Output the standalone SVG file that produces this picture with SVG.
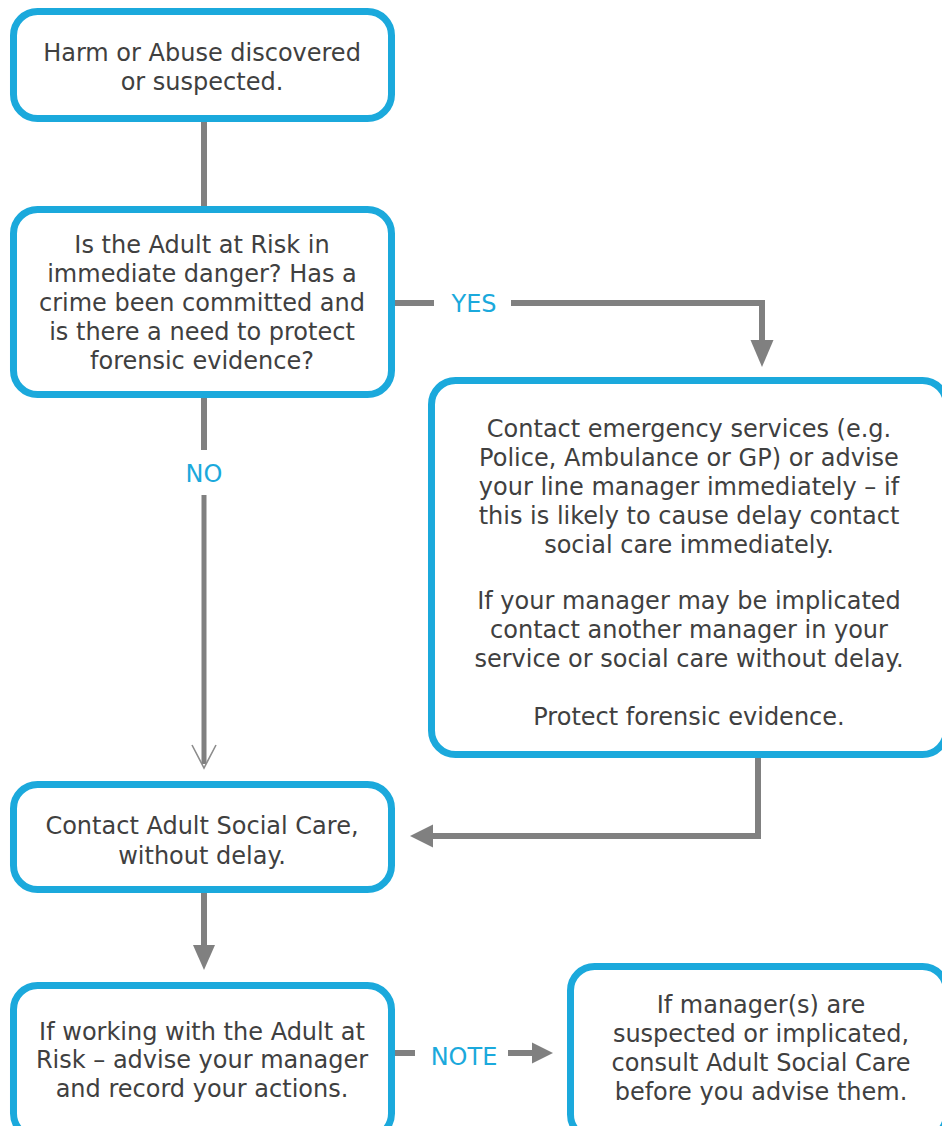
<svg xmlns="http://www.w3.org/2000/svg" width="942" height="1126" viewBox="0 0 942 1126">
  <style>
    .box { fill: #ffffff; stroke: #1ba9dc; stroke-width: 7; }
    .txt { font-family: "DejaVu Sans", Verdana, sans-serif; font-size: 24px; fill: #404040; text-anchor: middle; }
    .lbl { font-family: "DejaVu Sans", Verdana, sans-serif; font-size: 24px; fill: #1ba9dc; text-anchor: middle; }
    .line { fill: none; stroke: #808080; stroke-width: 6; }
    .head { fill: #808080; stroke: none; }
    .thin { fill: none; stroke: #8c8c8c; stroke-width: 1.6; }
  </style>
  <rect width="942" height="1126" fill="#ffffff"/>

  <g id="connectors">
    <line class="line" x1="204" y1="122" x2="204" y2="206"/>
    <line class="line" x1="395" y1="303" x2="434" y2="303"/>
    <text class="lbl" x="474" y="312">YES</text>
    <polyline class="line" points="511,303 762,303 762,341"/>
    <polygon class="head" points="750.5,340 773.5,340 762,367"/>

    <line class="line" x1="204" y1="398" x2="204" y2="450"/>
    <text class="lbl" x="204" y="482">NO</text>
    <line class="line" x1="204" y1="495" x2="204" y2="764" style="stroke-width:5"/>
    <polyline class="thin" points="192,745 204,768 216,745"/>

    <polyline class="line" points="758,758 758,836 432,836"/>
    <polygon class="head" points="433,824.5 433,847.5 410,836"/>

    <line class="line" x1="204" y1="893" x2="204" y2="946"/>
    <polygon class="head" points="193,945 215,945 204,970"/>

    <line class="line" x1="395" y1="1053" x2="415" y2="1053"/>
    <text class="lbl" x="464" y="1065">NOTE</text>
    <line class="line" x1="508" y1="1053" x2="533" y2="1053"/>
    <polygon class="head" points="532,1042.5 532,1063.5 553,1053"/>
  </g>

  <g id="n1">
    <rect class="box" x="13.5" y="11.5" width="378" height="107" rx="24"/>
    <text class="txt" x="202" y="61">Harm or Abuse discovered</text>
    <text class="txt" x="202" y="90">or suspected.</text>
  </g>

  <g id="n2">
    <rect class="box" x="13.5" y="209.5" width="378" height="185" rx="24"/>
    <text class="txt" x="202" y="253">Is the Adult at Risk in</text>
    <text class="txt" x="202" y="282">immediate danger? Has a</text>
    <text class="txt" x="202" y="311">crime been committed and</text>
    <text class="txt" x="202" y="340">is there a need to protect</text>
    <text class="txt" x="202" y="369">forensic evidence?</text>
  </g>

  <g id="n3">
    <rect class="box" x="431.5" y="380.5" width="515" height="374" rx="24"/>
    <text class="txt" x="689" y="437">Contact emergency services (e.g.</text>
    <text class="txt" x="689" y="466">Police, Ambulance or GP) or advise</text>
    <text class="txt" x="689" y="495">your line manager immediately – if</text>
    <text class="txt" x="689" y="524">this is likely to cause delay contact</text>
    <text class="txt" x="689" y="553">social care immediately.</text>
    <text class="txt" x="689" y="609">If your manager may be implicated</text>
    <text class="txt" x="689" y="638">contact another manager in your</text>
    <text class="txt" x="689" y="667">service or social care without delay.</text>
    <text class="txt" x="689" y="725">Protect forensic evidence.</text>
  </g>

  <g id="n4">
    <rect class="box" x="13.5" y="784.5" width="378" height="105" rx="24"/>
    <text class="txt" x="202" y="834">Contact Adult Social Care,</text>
    <text class="txt" x="202" y="864">without delay.</text>
  </g>

  <g id="n5">
    <rect class="box" x="13.5" y="985.5" width="378" height="152" rx="24"/>
    <text class="txt" x="202" y="1040">If working with the Adult at</text>
    <text class="txt" x="202" y="1068">Risk – advise your manager</text>
    <text class="txt" x="202" y="1097">and record your actions.</text>
  </g>

  <g id="n6">
    <rect class="box" x="570.5" y="966.5" width="376" height="172" rx="24"/>
    <text class="txt" x="761" y="1013">If manager(s) are</text>
    <text class="txt" x="761" y="1042">suspected or implicated,</text>
    <text class="txt" x="761" y="1071">consult Adult Social Care</text>
    <text class="txt" x="761" y="1100">before you advise them.</text>
  </g>
</svg>
